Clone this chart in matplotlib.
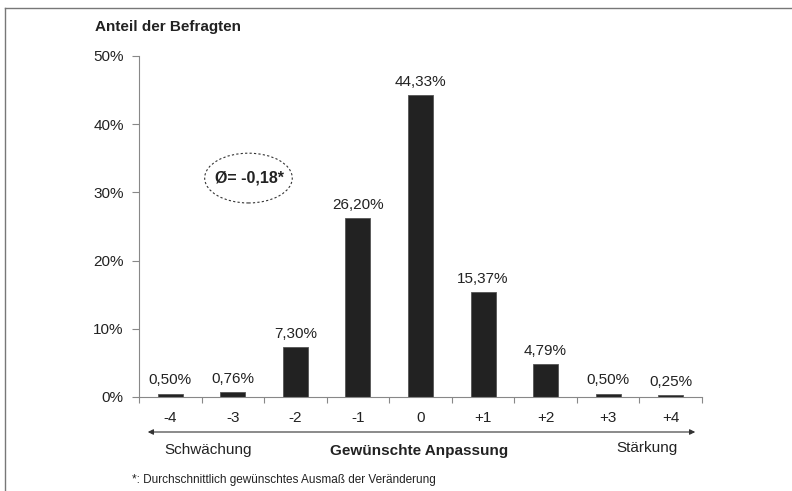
import matplotlib.pyplot as plt
from matplotlib.patches import Ellipse
from matplotlib.lines import Line2D

plt.rcParams['font.family'] = ['Liberation Sans', 'DejaVu Sans']

# Gewünschte Anpassung vs. Anteil der Befragten
categories = ['-4', '-3', '-2', '-1', '0', '+1', '+2', '+3', '+4']
shares = [0.50, 0.76, 7.30, 26.20, 44.33, 15.37, 4.79, 0.50, 0.25]
yticks = [0, 10, 20, 30, 40, 50]

fig = plt.figure(figsize=(7.92, 4.91), dpi=100)
ax = fig.add_axes([139 / 792, 1 - 397 / 491, 563 / 792, 341 / 491])

x = range(len(categories))
ax.bar(x, shares, width=0.40, color='#222222', edgecolor='#555555', linewidth=0.6)
for i, v in zip(x, shares):
    ax.text(i, v + 0.9, f'{v:.2f}%'.replace('.', ','), ha='center', va='bottom', fontsize=11, color='#222222')

ax.set_xlim(-0.5, 8.5)
ax.set_ylim(0, 50)
ax.set_yticks(yticks)
ax.set_yticklabels([f'{t}%' for t in yticks], fontsize=11, color='#222222')
ax.set_xticks([i - 0.5 for i in range(len(categories) + 1)])
ax.set_xticklabels([])
ax.set_xticks(list(x), minor=True)
ax.set_xticklabels(categories, minor=True, fontsize=11, color='#222222')
ax.tick_params(axis='x', which='minor', length=0, pad=10)
ax.tick_params(axis='x', which='major', length=4, color='#888888', direction='out')
ax.tick_params(axis='y', length=5, color='#888888', pad=6)
for s in ['top', 'right']:
    ax.spines[s].set_visible(False)
ax.spines['left'].set_color('#888888')
ax.spines['bottom'].set_color('#888888')

# Mittelwert-Ellipse
ax.add_patch(Ellipse((1.25, 32.1), 1.4, 7.3, fill=False, linestyle=(0, (2, 2)), edgecolor='#333333', linewidth=0.8))
ax.text(1.27, 32.1, 'Ø= -0,18*', ha='center', va='center', fontsize=11.5, fontweight='bold', color='#222222')

# Texte ausserhalb
fig.text(95 / 792, 1 - 27 / 491, 'Anteil der Befragten', fontsize=11, fontweight='bold', va='center', color='#222222')
ax.annotate('', xy=(698 / 792, 1 - 432 / 491), xytext=(145 / 792, 1 - 432 / 491), xycoords='figure fraction',
            arrowprops=dict(arrowstyle='<|-|>', color='#333333', lw=0.8, mutation_scale=8))
fig.text(208 / 792, 1 - 450 / 491, 'Schwächung', fontsize=11, ha='center', va='center', color='#222222')
fig.text(419 / 792, 1 - 451 / 491, 'Gewünschte Anpassung', fontsize=11, fontweight='bold', ha='center', va='center', color='#222222')
fig.text(647 / 792, 1 - 448 / 491, 'Stärkung', fontsize=11, ha='center', va='center', color='#222222')
fig.text(132 / 792, 1 - 480 / 491, '*: Durchschnittlich gewünschtes Ausmaß der Veränderung', fontsize=8.5, va='center', color='#222222')

# Rahmen
fig.add_artist(Line2D([5 / 792, 1], [1 - 8 / 491] * 2, transform=fig.transFigure, color='#777777', lw=1))
fig.add_artist(Line2D([5 / 792] * 2, [0, 1 - 8 / 491], transform=fig.transFigure, color='#777777', lw=1))

fig.savefig('out.png', dpi=100)
